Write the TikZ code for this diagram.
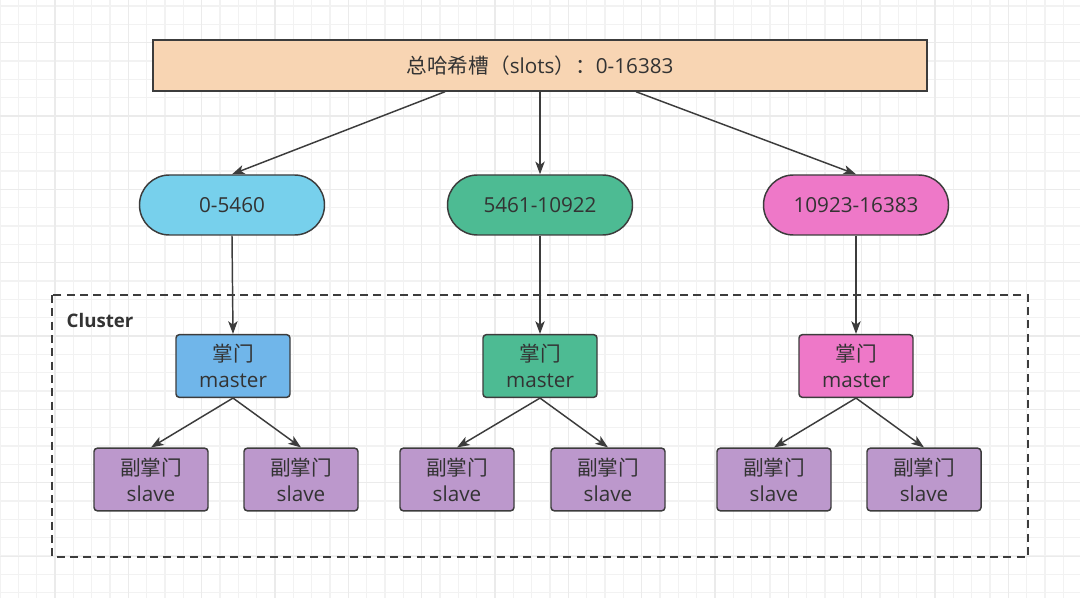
\documentclass[tikz,border=0pt]{standalone}
\usepackage{fontspec}
\setmainfont{Open Sans}
\newfontfamily\cjk{Noto Sans CJK SC}
\usetikzlibrary{arrows.meta}

\definecolor{linegray}{HTML}{3C3C3C}
\definecolor{textgray}{HTML}{333333}
\definecolor{gridminor}{HTML}{F2F2F2}
\definecolor{gridmajor}{HTML}{EBEBEB}
\definecolor{slotfill}{HTML}{F8D5B3}
\definecolor{bluerange}{HTML}{77D0EC}
\definecolor{bluemaster}{HTML}{70B6EA}
\definecolor{greenfill}{HTML}{4DBB93}
\definecolor{pinkfill}{HTML}{EE78C8}
\definecolor{slavefill}{HTML}{BC98CC}

\begin{document}
\begin{tikzpicture}
	[
	x=0.75pt, y=-0.75pt, font=\fontsize{15.5}{19.5}\selectfont, >={Stealth[length=9.5pt,width=7pt,inset=2.5pt]},
	%Voreinstellungen fuer Kaesten und Pfeile
	box/.style={draw=linegray, line width=1.1pt, text=textgray, align=center, inner sep=0pt},
	slotrange/.style={box, rounded corners=22.5pt, minimum width=138.75pt, minimum height=45pt},
	member/.style={box, rounded corners=2.5pt, minimum width=85.5pt, minimum height=47pt},
	link/.style={->, draw=linegray, line width=1.1pt}
	]
	
	\useasboundingbox (0,0) rectangle (1080,598);
	
	%Raster im Hintergrund
	\fill[white] (0,0) rectangle (1080,598);
	\foreach \i in {0,...,59}
	\draw[gridminor, line width=0.8pt] (\i*18.333,0) -- ++(0,598);
	\foreach \j in {0,...,32}
	\draw[gridminor, line width=0.8pt] (0,6+\j*18.333) -- ++(1080,0);
	\foreach \i in {0,...,14}
	\draw[gridmajor, line width=0.8pt] (55+\i*73.333,0) -- ++(0,598);
	\foreach \j in {0,...,8}
	\draw[gridmajor, line width=0.8pt] (0,42.7+\j*73.333) -- ++(1080,0);
	
	%Cluster
	\draw[linegray, line width=1.1pt, dash pattern=on 6pt off 4pt] (52,295) rectangle (1028,557);
	\node[anchor=west, text=textgray, font=\fontsize{14}{16}\selectfont\bfseries] (cluster) at (62,320) {Cluster};
	
	%Hashslots
	\node[box, fill=slotfill, minimum width=580.5pt, minimum height=38.25pt] (total) at (540,65.5) {{\cjk 总哈希槽（}slots{\cjk ）：}0-16383};
	
	\node[slotrange, fill=bluerange] (rangeA) at (232,205) {0-5460};
	\node[slotrange, fill=greenfill] (rangeB) at (540,205) {5461-10922};
	\node[slotrange, fill=pinkfill] (rangeC) at (856,205) {10923-16383};
	
	\node[member, fill=bluemaster] (masterA) at (233,366) {{\cjk 掌门}\\master};
	\node[member, fill=greenfill] (masterB) at (540,366) {{\cjk 掌门}\\master};
	\node[member, fill=pinkfill] (masterC) at (856,366) {{\cjk 掌门}\\master};
	
	\node[member, fill=slavefill] (slaveA1) at (151,479.5) {{\cjk 副掌门}\\slave};
	\node[member, fill=slavefill] (slaveA2) at (301,479.5) {{\cjk 副掌门}\\slave};
	\node[member, fill=slavefill] (slaveB1) at (457,479.5) {{\cjk 副掌门}\\slave};
	\node[member, fill=slavefill] (slaveB2) at (608,479.5) {{\cjk 副掌门}\\slave};
	\node[member, fill=slavefill] (slaveC1) at (774,479.5) {{\cjk 副掌门}\\slave};
	\node[member, fill=slavefill] (slaveC2) at (924,479.5) {{\cjk 副掌门}\\slave};
	
	%Pfeile
	\draw[link] ([xshift=-71.25pt]total.south) -- (rangeA.north);
	\draw[link] (total.south) -- (rangeB.north);
	\draw[link] ([xshift=72pt]total.south) -- (rangeC.north);
	
	\draw[link] (rangeA.south) -- (masterA.north);
	\draw[link] (rangeB.south) -- (masterB.north);
	\draw[link] (rangeC.south) -- (masterC.north);
	
	\foreach \m in {A,B,C}
	{
	\draw[link] (master\m.south) -- (slave\m1.north);
	\draw[link] (master\m.south) -- (slave\m2.north);
	}
\end{tikzpicture}
\end{document}
